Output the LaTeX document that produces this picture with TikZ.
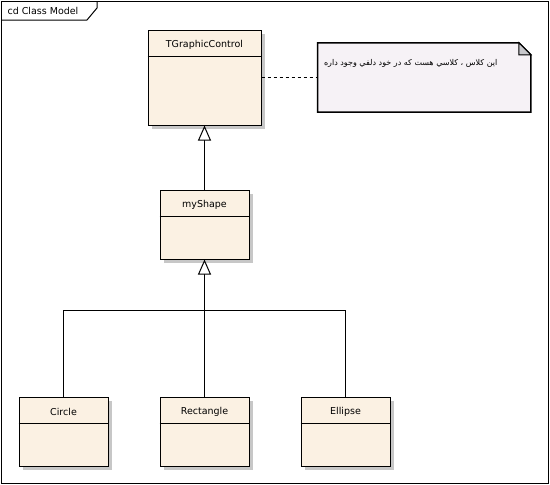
\documentclass[tikz,border=0pt]{standalone}
\usepackage{fontspec}
\setmainfont{DejaVu Sans}
\newfontfamily\arabicfont[Script=Arabic]{DejaVu Sans}
\TeXXeTstate=1
\usepackage{xcolor}
\usetikzlibrary{arrows.meta,positioning,shadows}
\definecolor{classfill}{RGB}{251,241,227}
\definecolor{notefill}{RGB}{246,242,246}
\definecolor{foldgray}{RGB}{200,200,204}

\begin{document}
\begin{tikzpicture}[
    x=1pt, y=-1pt,
    node distance=64pt and 51pt,
    every node/.style={font=\fontsize{9.5}{11}\selectfont},
    classbox/.style={draw, line width=1pt, fill=classfill, inner sep=0pt, minimum width=89pt, minimum height=69pt,
        drop shadow={shadow xshift=4pt, shadow yshift=-4pt, fill=black!22, opacity=1}},
    notebox/.style={inner sep=0pt, minimum width=213pt, minimum height=69pt},
    gen/.style={line width=1pt, -{Triangle[width=13pt, length=15pt, fill=white]}},
    link/.style={line width=1pt},
    notelink/.style={line width=1pt, dash pattern=on 3pt off 3pt}
]
\useasboundingbox (0,0) rectangle (550,485);

% frame
\draw[line width=1pt] (1,1) rectangle (548,483);
\draw[line width=1pt] (1,20) -- (87,20) -- (97,8) -- (97,1);
\node[anchor=west] (frame-title) at (4,11) {cd Class Model};

% classes
\node[classbox, minimum width=113pt, minimum height=95pt] (tgc) at (204.5,77.5) {};
\node[classbox, below=64pt of tgc] (myshape) {};
\node[classbox, below=137pt of myshape] (rect) {};
\node[classbox, left=51pt of rect] (circle) {};
\node[classbox, right=51pt of rect] (ellipse) {};

\foreach \n/\t in {tgc/TGraphicControl, myshape/myShape, circle/Circle, rect/Rectangle, ellipse/Ellipse} {
    \node (\n-title) at ([yshift=-15pt]\n.north) {\t};
    \draw[link] ([yshift=-27pt]\n.north west) -- ([yshift=-27pt]\n.north east);
}

% note
\node[notebox, right=56pt of tgc] (note) {};
\draw[line width=1.5pt, fill=notefill] (note.north west) -- ([xshift=-12pt]note.north east)
    -- ([yshift=-12pt]note.north east) -- (note.south east) -- (note.south west) -- cycle;
\draw[line width=1pt, fill=foldgray] ([xshift=-12pt]note.north east) -- ([xshift=-12pt,yshift=-12pt]note.north east)
    -- ([yshift=-12pt]note.north east) -- cycle;
\node[anchor=west, font=\fontsize{8}{10}\selectfont] (note-text) at ([xshift=3pt,yshift=-21pt]note.north west)
    {\arabicfont\beginR اين كلاس ، كلاسي هست كه در خود دلفي وجود داره\endR};

% connectors
\coordinate (join) at ([yshift=-51pt]myshape.south);
\draw[gen] (myshape) -- (tgc);
\draw[gen] (rect) -- (myshape);
\draw[link] (circle) |- (join) -| (ellipse);
\draw[notelink] (tgc) -- (note);
\end{tikzpicture}
\end{document}
